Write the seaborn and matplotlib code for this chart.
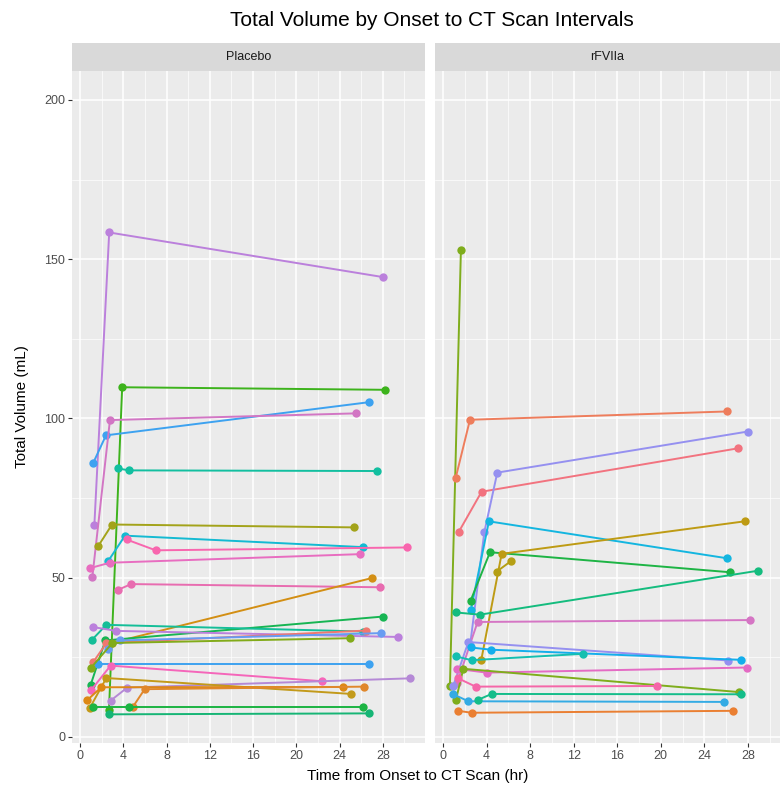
import pandas as pd
import matplotlib.pyplot as plt
import seaborn as sns
from matplotlib.ticker import MultipleLocator

# data: one row per CT scan
pla_patient = ["P01"] * 3 + ["P02"] * 3 + ["P03"] * 3 + ["P04"] * 3 + ["P05"] * 3 + \
    ["P06"] * 3 + ["P07"] * 3 + ["P08"] * 3 + ["P09"] * 3 + ["P10"] * 3 + ["P11"] * 2 + \
    ["P12"] * 3 + ["P13"] * 3 + ["P14"] * 3 + ["P15"] * 3 + ["P16"] * 2 + ["P17"] * 3 + \
    ["P18"] * 3 + ["P19"] * 3 + ["P20"] * 3 + ["P21"] * 3 + ["P22"] * 3 + ["P23"] * 3 + \
    ["P24"] * 3 + ["P25"] * 2
pla_hours = [1.33, 2.7, 28.0, 2.68, 3.9, 28.2, 1.23, 2.4, 26.7, 1.14, 2.77, 25.5,
             3.48, 4.56, 27.45, 1.66, 2.96, 25.35, 2.6, 4.16, 26.2, 0.92, 2.75, 25.9,
             4.3, 7.0, 30.25, 3.51, 4.74, 27.75, 3.0, 27.0, 0.99, 2.34, 28.0,
             1.11, 2.43, 26.2, 1.2, 3.36, 29.4, 1.2, 2.45, 26.4, 1.66, 26.7,
             2.59, 3.73, 27.8, 0.99, 2.99, 24.95, 1.05, 2.83, 22.4, 2.83, 4.37, 30.5,
             0.89, 2.43, 25.1, 0.68, 1.97, 24.3, 4.9, 5.98, 26.3, 1.2, 4.5, 26.2,
             2.68, 26.7]
pla_volume = [66.7, 158.4, 144.4, 8.5, 109.8, 109.0, 86.1, 94.7, 105.1, 50.2, 99.5, 101.6,
              84.3, 83.7, 83.5, 59.8, 66.7, 65.8, 55.2, 63.2, 59.6, 53.0, 54.7, 57.4,
              62.0, 58.6, 59.5, 46.2, 48.0, 47.0, 29.6, 49.9, 16.4, 30.3, 37.8,
              30.5, 35.2, 33.1, 34.5, 33.3, 31.4, 23.4, 29.5, 33.4, 22.9, 22.9,
              27.6, 30.3, 32.6, 21.6, 29.5, 31.0, 14.8, 22.4, 17.5, 11.4, 15.5, 18.4,
              9.0, 18.5, 13.5, 11.6, 15.6, 15.7, 9.5, 15.0, 15.8, 9.3, 9.3, 9.3,
              7.1, 7.4]
pla_colors = ["#BB80DC", "#3DB31C", "#3DA2F0", "#D276C4", "#12BFA0", "#A3A31A",
              "#14BAD2", "#E86DC0", "#F866AE", "#E86CB0", "#D38F14", "#17B553",
              "#14BE98", "#BB80DC", "#F0786F", "#3DA2F0", "#679CF2", "#82AB1A",
              "#F566BA", "#B589D6", "#C39A1A", "#DD8814", "#E0872C", "#1CB443",
              "#16B575"]

rf_patient = ["R01"] * 2 + ["R02"] * 3 + ["R03"] * 3 + ["R04"] * 4 + ["R05"] * 3 + \
    ["R06"] * 3 + ["R07"] * 3 + ["R08"] * 2 + ["R09"] * 3 + ["R10"] * 3 + ["R11"] * 3 + \
    ["R12"] * 3 + ["R13"] * 3 + ["R14"] * 3 + ["R15"] * 3 + ["R16"] * 3 + ["R17"] * 3 + \
    ["R18"] * 3 + ["R19"] * 3
rf_hours = [0.64, 1.65, 1.16, 2.48, 26.1, 1.47, 3.55, 27.05, 2.5, 3.8, 4.99, 28.0,
            2.57, 4.22, 26.1, 2.54, 4.32, 26.4, 3.52, 5.39, 27.7, 4.93, 6.24,
            1.16, 3.4, 28.95, 1.3, 3.18, 28.2, 0.95, 2.33, 26.2, 2.54, 4.38, 27.4,
            1.19, 2.63, 12.86, 1.26, 4.0, 27.9, 1.19, 1.87, 27.15, 1.4, 3.0, 19.7,
            0.95, 2.33, 25.8, 3.18, 4.47, 27.4, 1.4, 2.63, 26.65]
rf_volume = [16.0, 153.0, 81.2, 99.6, 102.2, 64.5, 77.0, 90.6, 29.0, 64.3, 83.0, 95.9,
             40.0, 67.7, 56.1, 42.8, 58.0, 51.7, 24.2, 57.5, 67.7, 51.9, 55.2,
             39.1, 38.4, 52.2, 17.0, 36.1, 36.7, 16.0, 29.8, 24.0, 28.1, 27.4, 24.2,
             25.3, 24.1, 26.1, 21.4, 20.2, 21.8, 11.6, 21.4, 14.1, 18.4, 15.8, 16.0,
             13.4, 11.2, 11.0, 11.6, 13.5, 13.4, 8.2, 7.6, 8.2]
rf_colors = ["#7FAD1C", "#EE7D5C", "#F2737F", "#9590F0", "#14B6E0", "#1EB445",
             "#BE9B14", "#B59F14", "#14BC7E", "#D575C4", "#9590F0", "#14AEEC",
             "#14BFB0", "#E46BC4", "#7FAD1C", "#F566A8", "#34ABE4", "#14BD8A",
             "#EA7F32"]

panels = [
    ("Placebo", pla_patient, pla_hours, pla_volume, pla_colors, (-0.74, 31.9)),
    ("rFVIIa", rf_patient, rf_hours, rf_volume, rf_colors, (-0.73, 30.95)),
]

sns.set_theme(style="darkgrid", rc={"axes.facecolor": "#EBEBEB", "grid.color": "white"})
plt.rcParams['font.family'] = ['Liberation Sans', 'DejaVu Sans']

W, H = 783, 787
fig = plt.figure(figsize=(W / 100, H / 100), dpi=100)

# panel boxes in pixels: left, right
boxes = [(72, 425), (435, 780)]
top, bottom, strip_top = 71, 743, 43

for i, (name, pid, hrs, vol, cols, xlim) in enumerate(panels):
    left, right = boxes[i]
    ax = fig.add_axes([left / W, 1 - bottom / H, (right - left) / W, (bottom - top) / H])
    df = pd.DataFrame({"patient": pid, "hours": hrs, "volume": vol})
    ids = list(dict.fromkeys(pid))
    pal = dict(zip(ids, cols))
    sns.lineplot(data=df, x="hours", y="volume", hue="patient", palette=pal,
                 units="patient", estimator=None, sort=True, legend=False,
                 marker="o", markersize=6, markeredgewidth=0, linewidth=1.4, ax=ax)
    ax.set_xlim(*xlim)
    ax.set_ylim(-1.9, 209.1)
    ax.xaxis.set_major_locator(MultipleLocator(4))
    ax.xaxis.set_minor_locator(MultipleLocator(2))
    ax.yaxis.set_major_locator(MultipleLocator(50))
    ax.yaxis.set_minor_locator(MultipleLocator(25))
    ax.grid(which="major", color="white", linewidth=1.1)
    ax.grid(which="minor", color="white", linewidth=0.5)
    ax.set_axisbelow(True)
    for s in ax.spines.values():
        s.set_visible(False)
    ax.tick_params(which="major", length=3, width=0.8, color="#333333",
                   labelcolor="#4D4D4D", labelsize=9, pad=2,
                   bottom=True, left=(i == 0))
    ax.tick_params(which="minor", length=0)
    ax.set_xlabel("")
    ax.set_ylabel("")
    if i > 0:
        ax.set_yticklabels([])

    # facet strip
    sax = fig.add_axes([left / W, 1 - top / H, (right - left) / W, (top - strip_top) / H])
    sax.set_facecolor("#D9D9D9")
    sax.set_xticks([])
    sax.set_yticks([])
    for s in sax.spines.values():
        s.set_visible(False)
    sax.text(0.5, 0.5, name, ha="center", va="center", fontsize=9, color="#1A1A1A",
             transform=sax.transAxes)

fig.text(432 / W, 1 - 20 / H, "Total Volume by Onset to CT Scan Intervals",
         ha="center", va="center", fontsize=15, color="black")
fig.text(418 / W, 1 - 776 / H, "Time from Onset to CT Scan (hr)",
         ha="center", va="center", fontsize=11, color="black")
fig.text(22 / W, 1 - 407 / H, "Total Volume (mL)", rotation=90,
         ha="center", va="center", fontsize=11, color="black")

plt.savefig("out.png", dpi=100)
